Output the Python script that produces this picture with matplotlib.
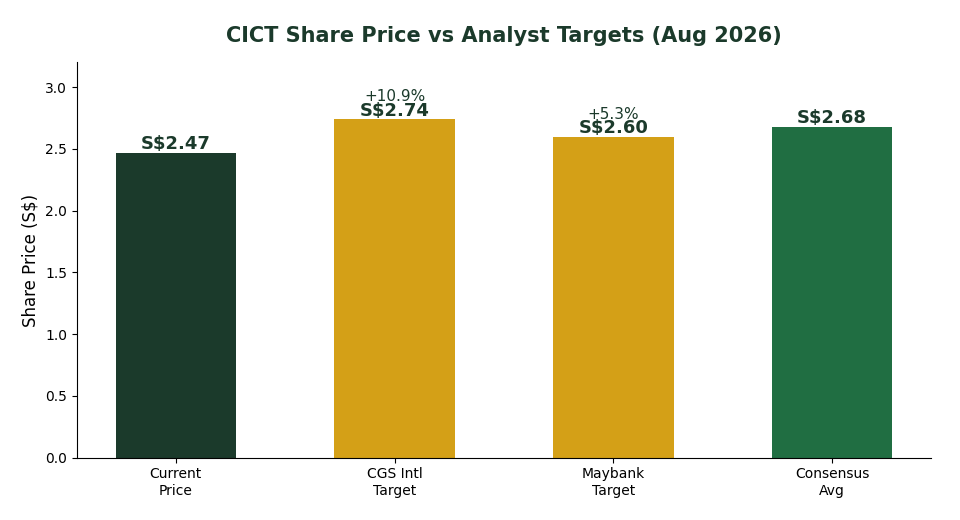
import matplotlib
matplotlib.use("Agg")
import matplotlib.pyplot as plt

# data
categories = ["Current\nPrice", "CGS Intl\nTarget", "Maybank\nTarget", "Consensus\nAvg"]
prices = [2.47, 2.74, 2.60, 2.68]
show_upside = [False, True, True, False]
bar_colors = ["#1b3a2b", "#d4a017", "#d4a017", "#206e42"]

dark = "#1b3a2b"

fig, ax = plt.subplots(figsize=(9.6, 5.2), dpi=100)
bars = ax.bar(categories, prices, color=bar_colors, width=0.55)

current = prices[0]
for bar, price, up in zip(bars, prices, show_upside):
    x = bar.get_x() + bar.get_width() / 2
    ax.text(x, price - 0.005, f"S${price:.2f}", ha="center", va="bottom",
            fontsize=13, fontweight="bold", color=dark)
    if up:
        pct = (price / current - 1) * 100
        ax.text(x, price + 0.12, f"+{pct:.1f}%", ha="center", va="bottom",
                fontsize=11, color=dark)

ax.set_ylim(0, 3.2)
ax.set_ylabel("Share Price (S$)", fontsize=12)
ax.set_title("CICT Share Price vs Analyst Targets (Aug 2026)", fontsize=15,
             fontweight="bold", color=dark, pad=15)
ax.spines["top"].set_visible(False)
ax.spines["right"].set_visible(False)

plt.subplots_adjust(left=0.08, right=0.97, top=0.88, bottom=0.12)
plt.savefig("out.png", dpi=100)
